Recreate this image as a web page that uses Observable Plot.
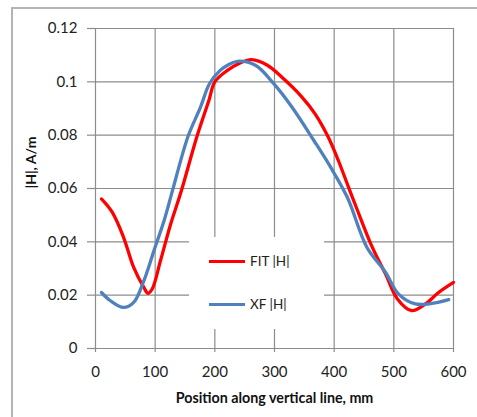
<!DOCTYPE html>
<html>
<head>
<meta charset="utf-8">
<script src="https://cdn.jsdelivr.net/npm/d3@7"></script>
<script src="https://cdn.jsdelivr.net/npm/@observablehq/plot@0.6"></script>
<style>
  html, body { margin: 0; padding: 0; background: #fff; }
  #wrap { position: relative; width: 477px; height: 417px; overflow: hidden; }
  #frame { position: absolute; left: 11px; top: 7px; width: 480px; height: 430px;
           border: 2px solid #b4b4b4; box-sizing: border-box; }
  #chart { position: absolute; left: 0; top: 0; }
  #legend { position: absolute; left: 189px; top: 237px; width: 135px; height: 92px;
            background: #fff; font-family: Lato, "Open Sans", sans-serif; font-size: 13.5px; color: #222; }
  .item { position: absolute; left: 20px; height: 16px; display: flex; align-items: center; }
  .swatch { display: inline-block; width: 36px; height: 3px; margin-right: 5px; }
</style>
</head>
<body>
<div id="wrap">
  <div id="frame"></div>
  <div id="chart"></div>
  <div id="legend"></div>
</div>
<script>
// Series names and colors
const seriesNames = ["FIT |H|", "XF |H|"];
const seriesColors = ["#ff0000", "#4f81bd"];

// FIT |H| (red)
const fitX = [10, 28, 47, 64, 81, 88, 95, 109, 126, 143, 170, 190, 200, 221, 238, 262, 288, 312, 346, 368, 390, 407, 424, 438, 464, 486, 506, 530, 553, 575, 600];
const fitY = [0.0561, 0.0511, 0.0417, 0.0304, 0.0229, 0.0207, 0.0223, 0.033, 0.0467, 0.0585, 0.0795, 0.093, 0.1, 0.1043, 0.1066, 0.1083, 0.1062, 0.1018, 0.0943, 0.088, 0.0793, 0.0705, 0.0605, 0.0524, 0.0379, 0.028, 0.0186, 0.0142, 0.0167, 0.021, 0.0248];

// XF |H| (blue)
const xfX = [10, 25, 47, 64, 81, 98, 115, 129, 155, 176, 191, 209, 222, 238, 268, 298, 330, 366, 394, 422, 455, 486, 508, 536, 564, 592];
const xfY = [0.021, 0.0179, 0.0154, 0.0173, 0.0254, 0.0367, 0.048, 0.0592, 0.0795, 0.0905, 0.0993, 0.1043, 0.1063, 0.1077, 0.1062, 0.0995, 0.0903, 0.078, 0.068, 0.0567, 0.0379, 0.0286, 0.0204, 0.0167, 0.0169, 0.0183];

// Axis ticks and titles
const xTicks = [0, 100, 200, 300, 400, 500, 600];
const yTicks = [0, 0.02, 0.04, 0.06, 0.08, 0.1, 0.12];
const xTitle = "Position along vertical line, mm";
const yTitle = "|H|, A/m";

const fit = fitX.map((x, i) => ({x, y: fitY[i]}));
const xf = xfX.map((x, i) => ({x, y: xfY[i]}));

const gridColor = "#8c8c8c";
const font = "Lato, 'Open Sans', sans-serif";

const chart = Plot.plot({
  width: 477,
  height: 417,
  marginLeft: 95,
  marginRight: 24,
  marginTop: 28,
  marginBottom: 69,
  style: {fontFamily: font, fontSize: "15px", color: "#222", background: "transparent"},
  x: {domain: [0, 600]},
  y: {domain: [0, 0.12]},
  marks: [
    Plot.gridX(xTicks, {stroke: gridColor, strokeOpacity: 1, strokeWidth: 1.2}),
    Plot.gridY(yTicks, {stroke: gridColor, strokeOpacity: 1, strokeWidth: 1.2}),
    Plot.axisX(xTicks, {tickSize: 4, tickPadding: 14, stroke: gridColor, strokeWidth: 1.2, label: null, tickFormat: d => String(d), fill: "#222", fontSize: 15}),
    Plot.axisY(yTicks, {tickSize: 8, tickPadding: 10, stroke: gridColor, strokeWidth: 1.2, label: null, tickFormat: d => String(+d.toFixed(2)), fill: "#222", fontSize: 15}),
    Plot.line(fit, {x: "x", y: "y", stroke: seriesColors[0], strokeWidth: 3.3, curve: "catmull-rom"}),
    Plot.line(xf, {x: "x", y: "y", stroke: seriesColors[1], strokeWidth: 3.3, curve: "catmull-rom"}),
    Plot.text([xTitle], {frameAnchor: "bottom", dy: 54, fontWeight: "bold", fontSize: 14.3, fill: "#111"}),
    Plot.text([yTitle], {frameAnchor: "left", dx: -64, rotate: -90, fontWeight: "bold", fontSize: 14, fill: "#111"})
  ]
});
document.getElementById("chart").appendChild(chart);

// Legend
const legend = document.getElementById("legend");
const tops = [16, 59];
seriesNames.forEach((name, i) => {
  const item = document.createElement("div");
  item.className = "item";
  item.style.top = tops[i] + "px";
  const sw = document.createElement("span");
  sw.className = "swatch";
  sw.style.background = seriesColors[i];
  const t = document.createElement("span");
  t.textContent = name;
  item.appendChild(sw);
  item.appendChild(t);
  legend.appendChild(item);
});
</script>
</body>
</html>
